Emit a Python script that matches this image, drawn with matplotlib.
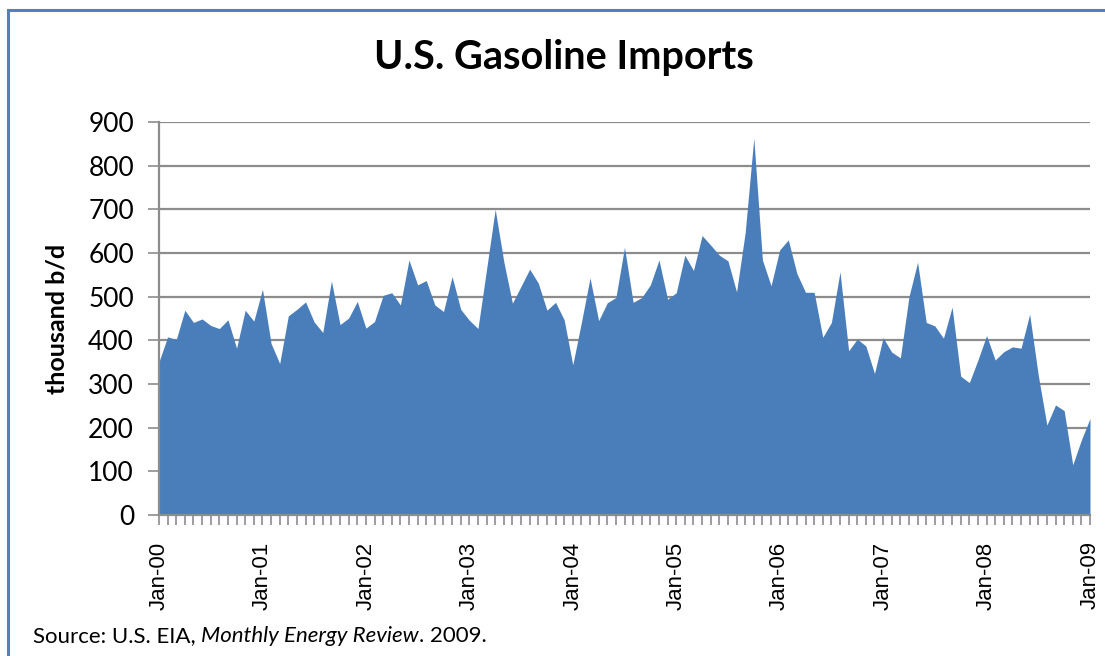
"""
U.S. gasoline imports, monthly, Jan 2000 - Jan 2009
"""

import matplotlib
matplotlib.use("Agg")
import matplotlib.pyplot as plt
import numpy as np
from matplotlib.lines import Line2D

# monthly imports, thousand b/d
imports_2000 = [351, 408, 402, 469, 441, 449, 434, 427, 447, 382, 469, 444]
imports_2001 = [517, 393, 347, 456, 471, 488, 442, 418, 536, 436, 451, 489]
imports_2002 = [428, 443, 503, 509, 481, 584, 527, 537, 481, 466, 546, 471]
imports_2003 = [446, 427, 563, 700, 580, 485, 524, 563, 531, 469, 487, 447]
imports_2004 = [344, 441, 543, 445, 486, 498, 613, 487, 498, 527, 584, 494]
imports_2005 = [509, 595, 560, 640, 618, 595, 582, 511, 647, 863, 584, 525]
imports_2006 = [607, 630, 553, 510, 510, 407, 441, 557, 376, 403, 387, 324]
imports_2007 = [406, 373, 360, 500, 579, 441, 433, 405, 476, 318, 303, 355]
imports_2008 = [411, 355, 374, 385, 382, 460, 320, 206, 252, 239, 115, 172]
imports_2009 = [221]

year_labels = ["Jan-00", "Jan-01", "Jan-02", "Jan-03", "Jan-04",
               "Jan-05", "Jan-06", "Jan-07", "Jan-08", "Jan-09"]

values = np.array(imports_2000 + imports_2001 + imports_2002 + imports_2003
                  + imports_2004 + imports_2005 + imports_2006 + imports_2007
                  + imports_2008 + imports_2009)
months = np.arange(len(values))

W, H = 1105, 656
grid_gray = "#8c8c8c"
fill_blue = "#4a7ebb"
frame_blue = "#4f81bd"

fig = plt.figure(figsize=(W / 100, H / 100), dpi=100)
ax = fig.add_axes([159 / W, 141 / H, 931 / W, 393 / H])

ax.fill_between(months, values, 0, color=fill_blue, linewidth=0, zorder=3)

ax.set_xlim(0, months[-1])
ax.set_ylim(0, 900)
ax.set_yticks(np.arange(0, 901, 100))
ax.yaxis.grid(True, color=grid_gray, linewidth=1.6, zorder=1)
ax.set_axisbelow(True)

ax.set_xticks(months[::12])
ax.set_xticklabels(year_labels, rotation=90, family="Liberation Sans",
                   fontsize=16)
ax.set_xticks(months, minor=True)
ax.tick_params(axis="x", which="both", direction="out", length=7,
               width=1.2, color=grid_gray, pad=12)
ax.tick_params(axis="y", direction="out", length=8, width=1.2,
               color=grid_gray, pad=10, labelsize=19)
for lab in ax.get_yticklabels():
    lab.set_family("Lato")

for side in ["top", "right"]:
    ax.spines[side].set_visible(False)
for side in ["left", "bottom"]:
    ax.spines[side].set_color(grid_gray)
    ax.spines[side].set_linewidth(1.6)
    ax.spines[side].set_zorder(4)

ax.set_ylabel("thousand b/d", family="Lato", fontweight="bold",
              fontsize=18, labelpad=14)

fig.text(564 / W, 1 - 57 / H, "U.S. Gasoline Imports", ha="center",
         va="center", family="Lato", fontweight="bold", fontsize=28.5)

# source line, publication title in italics
fig.canvas.draw()
renderer = fig.canvas.get_renderer()
x_px = 33
pieces = [("Source: U.S. EIA, ", "normal"), ("Monthly Energy Review", "italic"),
          (". 2009.", "normal")]
for txt, style in pieces:
    t = fig.text(x_px / W, 1 - 636 / H, txt, ha="left", va="center",
                 family="Lato", style=style, fontsize=16)
    x_px += t.get_window_extent(renderer).width

# chart-area frame: only the top and left edges fall inside the picture
fig.add_artist(Line2D([8 / W, 1.0], [1 - 10 / H, 1 - 10 / H],
                      transform=fig.transFigure, color=frame_blue,
                      linewidth=2.2))
fig.add_artist(Line2D([8 / W, 8 / W], [0.0, 1 - 10 / H],
                      transform=fig.transFigure, color=frame_blue,
                      linewidth=2.2))

fig.savefig("out.png", dpi=100)
